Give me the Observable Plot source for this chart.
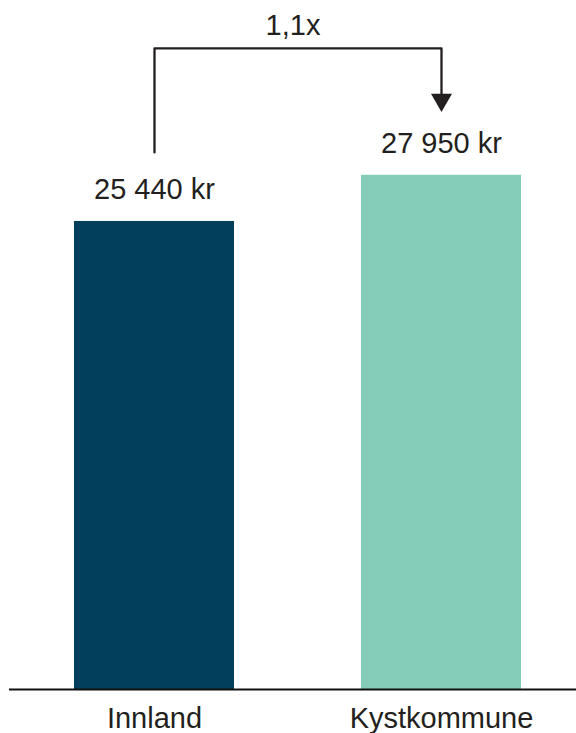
<!DOCTYPE html>
<html>
<head>
<meta charset="utf-8">
<script src="https://cdn.jsdelivr.net/npm/d3@7"></script>
<script src="https://cdn.jsdelivr.net/npm/@observablehq/plot@0.6"></script>
<style>
  html, body { margin: 0; padding: 0; background: #fff; }
  #chart svg { display: block; }
</style>
</head>
<body>
<div id="chart"></div>
<script>
const categories = ["Innland", "Kystkommune"];
const values = [25440, 27950];
const valueLabels = ["25 440 kr", "27 950 kr"];
const colors = ["#023f5c", "#85cdb9"];
const ratioLabel = "1,1x";

const data = categories.map((c, i) => ({cat: c, value: values[i], label: valueLabels[i], color: colors[i]}));

// bracket levels in data units (annotation)
const bracketStart = 29190;
const bracketTop = 34850;
const arrowBase = 32300;
const arrowCenter = 32050;

const bracket = [
  {cat: categories[0], y: bracketStart},
  {cat: categories[0], y: bracketTop},
  {cat: categories[1], y: bracketTop},
  {cat: categories[1], y: arrowBase}
];

const font = "'Liberation Sans', Arial, Helvetica, sans-serif";

const chart = Plot.plot({
  width: 576,
  height: 733,
  marginTop: 0,
  marginBottom: 44,
  marginLeft: 9,
  marginRight: 0,
  style: {fontFamily: font, fontSize: "29px", color: "#231f20", background: "#fff"},
  x: {domain: categories, paddingInner: 0.444, paddingOuter: 0.207, align: 0.538, label: null},
  y: {domain: [0, 37450], axis: null},
  marks: [
    Plot.barY(data, {x: "cat", y: "value", fill: "color"}),
    Plot.ruleY([0], {stroke: "#111", strokeWidth: 2}),
    Plot.axisX({tickSize: 0, tickPadding: 18, fontSize: 29, fill: "#231f20", label: null}),
    Plot.text(data, {x: "cat", y: "value", text: "label", lineAnchor: "bottom", dy: -22, fontSize: 29, fill: "#231f20"}),
    Plot.line(bracket, {x: "cat", y: "y", stroke: "#231f20", strokeWidth: 2.3}),
    Plot.dot([{cat: categories[1], y: arrowCenter}], {x: "cat", y: "y", symbol: "triangle", rotate: 180, r: 7.8, fill: "#231f20", stroke: "none"}),
    Plot.text([ratioLabel], {y: bracketTop, text: d => d, lineAnchor: "bottom", dy: -13, fontSize: 29, fill: "#231f20"})
  ]
});
document.getElementById("chart").append(chart);
</script>
</body>
</html>
